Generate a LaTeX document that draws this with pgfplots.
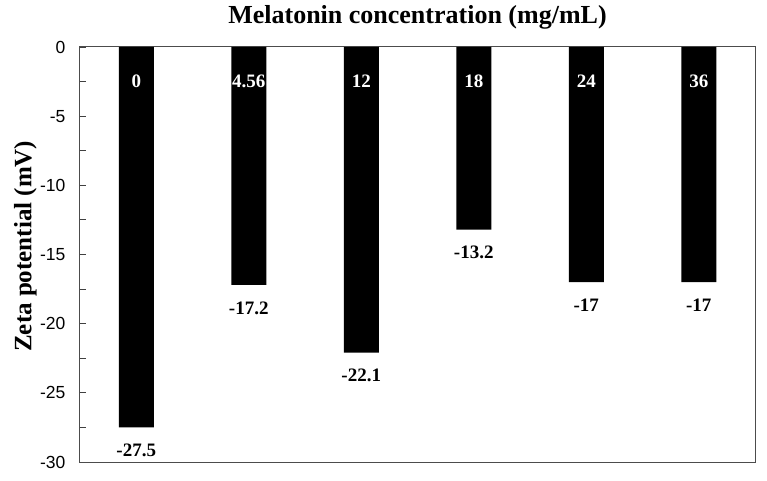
\documentclass[border=0pt]{standalone}
\usepackage{pgfplots}
\pgfplotsset{compat=1.18}
\usepackage{pgfplotstable}
\usepackage{fontspec}
\setmainfont{Liberation Serif}
\newfontfamily\sansf{Liberation Sans}

\pgfplotstableread{
x y ly val lab
0 -27.5 -2.5 -27.5 0
1 -17.2 -2.5 -17.2 4.56
2 -22.1 -2.5 -22.1 12
3 -13.2 -2.5 -13.2 18
4 -17.0 -2.5 -17 24
5 -17.0 -2.5 -17 36
}\data

\begin{document}
\begin{tikzpicture}
\path[use as bounding box] (-80pt,-18pt) rectangle (687pt,462pt);
\begin{axis}[
  at={(0,0)}, anchor=south west,
  scale only axis,
  width=675pt, height=415pt,
  xmin=-0.5, xmax=5.5,
  ymin=-30, ymax=0,
  xtick=\empty,
  ytick={-30,-25,-20,-15,-10,-5,0},
  yticklabels={-30,-25,-20,-15,-10,-5,0},
  minor ytick={-27.5,-22.5,-17.5,-12.5,-7.5,-2.5},
  ytick pos=left,
  tick align=inside,
  major tick length=6pt,
  minor tick length=6pt,
  every tick/.style={black!75, line width=0.9pt},
  axis line style={black!70, line width=1pt},
  yticklabel style={font=\sansf\fontsize{17.5}{20}\selectfont, xshift=-11pt},
  title={\bfseries\fontsize{26}{28}\selectfont Melatonin concentration (mg/mL)},
  title style={at={(axis description cs:0.5,1.058)}, anchor=center},
  ylabel={\bfseries\fontsize{25}{28}\selectfont Zeta potential (mV)},
  every axis y label/.style={at={(axis description cs:-0.081,0.52)}, anchor=center, rotate=90},
  clip=false,
]
\addplot[ybar, bar width=35pt, fill=black, draw=none,
  point meta=explicit symbolic,
  nodes near coords,
  nodes near coords style={font=\bfseries\fontsize{19}{20}\selectfont, anchor=north, yshift=-13pt},
] table[x=x, y=y, meta=val] {\data};
\addplot[draw=none, mark=none,
  point meta=explicit symbolic,
  nodes near coords,
  nodes near coords align={center},
  nodes near coords style={font=\bfseries\fontsize{19}{20}\selectfont, text=white},
] table[x=x, y=ly, meta=lab] {\data};
\end{axis}
\end{tikzpicture}
\end{document}
